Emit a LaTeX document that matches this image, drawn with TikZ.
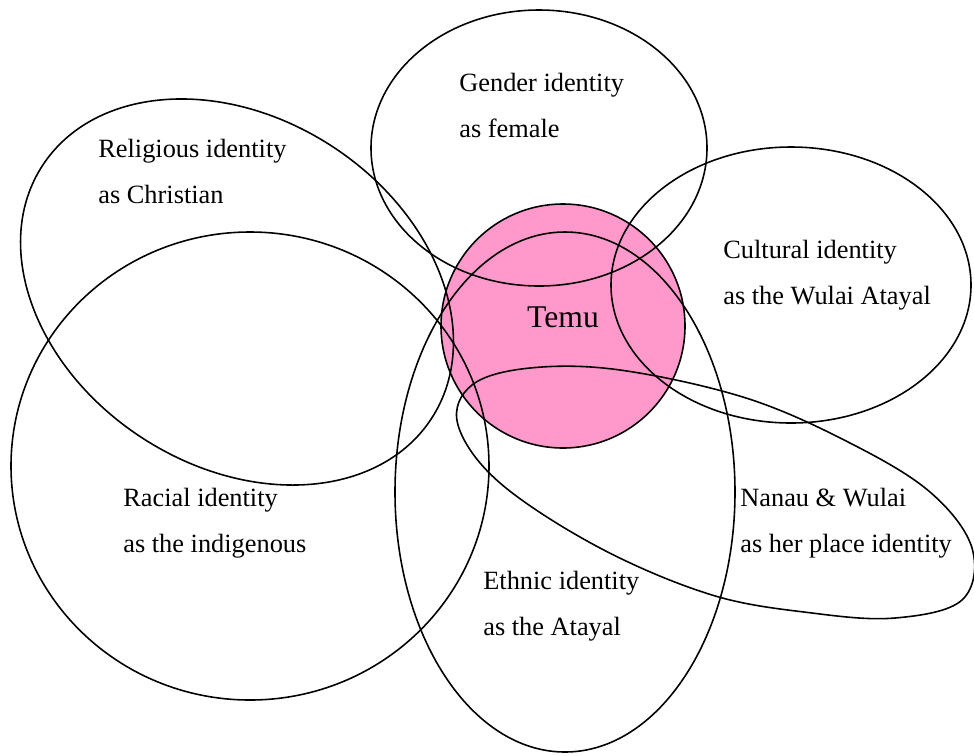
\documentclass[tikz,border=0pt]{standalone}
\usepackage{fontspec}
\setmainfont{Liberation Serif}
\usepackage{tikz}
\usetikzlibrary{positioning,calc}

\definecolor{temupink}{RGB}{255,153,204}
\tikzset{
	idline/.style={line width=0.9pt},
	idlabel/.style={align=left, anchor=base west, inner sep=0pt,
		font=\fontsize{15}{26}\selectfont},
}

\begin{document}
\begin{tikzpicture}[x=0.02cm, y=-0.02cm]
	\useasboundingbox (0,0) rectangle (974,755);

	% Temu in the middle
	\filldraw[idline, fill=temupink] (563,326) circle (122);
	\node[font=\fontsize{18}{22}\selectfont, anchor=base] (temu) at (563,327) {Temu};

	% the identities round her
	\draw[idline] (539,148) ellipse [x radius=168, y radius=138];
	\draw[idline] (791,285) ellipse [x radius=180, y radius=138];
	\draw[idline] (250,466) ellipse [x radius=239, y radius=234];
	\draw[idline] (565,492) ellipse [x radius=170, y radius=260];
	\draw[idline, rotate around={-33:(237,292)}] (237,292) ellipse [x radius=232, y radius=174];
	\draw[idline] plot[smooth cycle, tension=0.6] coordinates {
		(458,425) (472,385) (530,368) (620,370) (746,398) (850,443)
		(930,492) (972,548) (962,600) (895,618) (812,613) (712,595)
		(600,548) (500,483)};

	% labels: the point is the baseline of the second line
	\node[idlabel] (gender) at (459,137) {Gender identity\\as female};
	\node[idlabel] (religion) at (98,203) {Religious identity\\as Christian};
	\node[idlabel] (culture) at (723,304) {Cultural identity\\as the Wulai Atayal};
	\node[idlabel] (race) at (123,552) {Racial identity\\as the indigenous};
	\node[idlabel] (place) at (740,552) {Nanau \& Wulai\\as her place identity};
	\node[idlabel] (ethnic) at (483,635) {Ethnic identity\\as the Atayal};
\end{tikzpicture}
\end{document}
